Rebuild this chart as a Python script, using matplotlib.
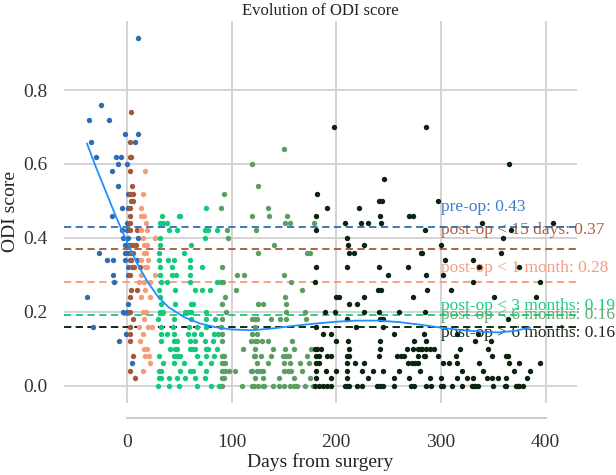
import matplotlib
matplotlib.use("Agg")
import matplotlib.pyplot as plt
from matplotlib.ticker import FormatStrFormatter

plt.rcParams['font.family'] = ['Liberation Serif', 'DejaVu Serif']

# ---------------- data ----------------
group_names = ["pre-op", "post-op < 15 days", "post-op < 1 month",
               "post-op < 3 months", "post-op < 6 months", "post-op > 6 months"]
group_means = [0.43, 0.37, 0.28, 0.19, 0.16, 0.16]

# each group: ODI level -> list of days from surgery
preop_rows = {
    0.94: [11], 0.76: [-25], 0.72: [-36, -17], 0.68: [-2, 11], 0.66: [-34, 8],
    0.62: [-29, -10, -6], 0.60: [-8, 0], 0.58: [-14], 0.54: [-8], 0.52: [1],
    0.48: [-5, 1], 0.46: [-14], 0.44: [0], 0.42: [-5, 0], 0.40: [1, 11, -4],
    0.38: [-2, 1], 0.36: [-27, -2, 1], 0.34: [-19, -13, -2, 3, 10], 0.32: [1],
    0.30: [-13, 1], 0.28: [-12], 0.24: [-38], 0.22: [1], 0.20: [-4, 0],
    0.16: [-32], 0.14: [-1], 0.12: [-7], 0.06: [5],
}
post15_rows = {
    0.74: [4], 0.66: [3], 0.62: [3, 4], 0.58: [3], 0.54: [5], 0.52: [3, 6],
    0.50: [4, 6], 0.48: [3], 0.46: [3], 0.44: [3], 0.42: [3, 10],
    0.38: [4, 6, 9], 0.36: [4, 6], 0.34: [4], 0.32: [5, 7, 13], 0.30: [3],
    0.26: [4, 10], 0.24: [3], 0.20: [3], 0.18: [6], 0.16: [3], 0.14: [3],
    0.12: [3], 0.08: [6], 0.04: [3], 0.02: [8],
}
post1m_rows = {
    0.58: [17], 0.52: [15], 0.48: [14], 0.46: [14, 16], 0.44: [18],
    0.42: [14, 19], 0.40: [15, 27], 0.38: [16, 19], 0.36: [16, 18],
    0.34: [14, 20], 0.32: [17, 19], 0.30: [14, 27], 0.28: [12, 16, 22],
    0.26: [17], 0.24: [14, 22], 0.20: [15, 18], 0.18: [16], 0.16: [12, 20, 24],
    0.14: [15], 0.12: [13], 0.10: [16, 19], 0.08: [17, 21], 0.06: [22], 0.04: [15],
}
post3m_rows = {
    0.48: [76], 0.46: [34, 50, 51], 0.44: [32, 35, 38], 0.42: [40, 48, 75, 78, 86],
    0.40: [32, 75], 0.38: [32, 61], 0.36: [31, 55], 0.34: [31, 39, 45, 60],
    0.32: [32, 43, 60, 72], 0.30: [32, 43, 47, 60], 0.28: [33, 38, 60, 86],
    0.26: [31, 46, 65, 72, 79], 0.24: [32], 0.22: [33, 46, 61, 63],
    0.20: [32, 35, 56, 58, 61, 76], 0.18: [30, 45, 61, 76, 84],
    0.16: [33, 44, 59, 67, 76], 0.14: [33, 38, 45, 58, 64, 71, 83, 87],
    0.12: [33, 45, 48, 60, 65, 75, 82], 0.10: [41, 46, 48, 60, 62, 65, 76, 78, 86],
    0.08: [31, 45, 48, 51, 67, 76, 83], 0.06: [35, 45, 55, 70, 80],
    0.04: [31, 33, 51, 60, 63, 76], 0.02: [31, 33, 40, 48, 56, 65, 75],
    0.00: [30, 40, 50, 67, 80, 88],
}
post6m_rows = {
    0.64: [150], 0.60: [120], 0.54: [125], 0.52: [93], 0.48: [90, 135],
    0.46: [120, 136, 153], 0.44: [151, 156, 179], 0.42: [96, 123], 0.40: [97],
    0.38: [141], 0.36: [125, 172, 175], 0.32: [91], 0.30: [105, 112, 150],
    0.28: [90, 92, 157], 0.26: [104, 167], 0.24: [94, 151],
    0.22: [91, 125, 130, 152], 0.20: [95, 152, 170],
    0.18: [91, 120, 122, 124, 138, 146, 152, 171], 0.16: [90, 122],
    0.14: [91, 120, 124], 0.12: [91, 119, 122, 124, 129, 135, 158],
    0.10: [111, 122, 140, 151, 160, 176],
    0.08: [91, 93, 121, 122, 128, 138, 149, 152, 155, 172],
    0.06: [91, 94, 124, 135, 150, 156, 165, 174],
    0.04: [91, 94, 98, 103, 119, 120, 124, 127, 130, 150, 154, 157, 167],
    0.02: [91, 93, 122, 130, 145, 160, 175],
    0.00: [91, 110, 120, 121, 125, 130, 131, 140, 145, 150, 156, 160, 163, 170, 178],
}
postlate_rows = {
    0.70: [198, 286], 0.60: [365], 0.56: [246], 0.52: [182], 0.50: [241, 244, 297],
    0.48: [191, 222], 0.46: [181, 242, 270, 273],
    0.44: [208, 224, 230, 243, 339, 407], 0.42: [181, 285, 367], 0.40: [210, 359],
    0.38: [211, 227, 300], 0.36: [212, 217, 281, 282, 357], 0.34: [304, 331],
    0.32: [181, 210, 241, 269, 336, 375], 0.30: [249, 286, 302],
    0.28: [180, 331, 395], 0.26: [240, 243, 287, 310],
    0.24: [200, 203, 227, 273, 351, 391], 0.22: [212, 220],
    0.20: [189, 199, 227, 241, 260, 285], 0.18: [210, 242, 245, 364],
    0.16: [181, 219, 245], 0.14: [187, 195, 255, 284, 315, 335],
    0.12: [200, 211, 242, 274, 286, 333, 348],
    0.10: [180, 182, 185, 212, 242, 268, 273, 278, 281, 282, 286, 290, 293, 318, 345],
    0.08: [181, 184, 191, 195, 210, 212, 241, 258, 262, 265, 278, 284, 285, 297,
           314, 349, 362, 364],
    0.06: [181, 184, 210, 218, 227, 269, 272, 275, 278, 302, 308, 315, 336, 365,
           375, 395],
    0.04: [181, 190, 200, 210, 225, 235, 245, 260, 280, 320, 340, 370, 385],
    0.02: [181, 195, 210, 230, 255, 270, 290, 300, 315, 325, 331, 344, 349, 355,
           362, 382],
    0.00: [180, 184, 187, 191, 195, 208, 210, 212, 220, 225, 239, 242, 245, 255,
           271, 274, 286, 291, 300, 302, 311, 320, 330, 332, 333, 335, 350, 361,
           362, 372, 374, 375, 378],
}

# smoothed trend
smooth_days = [-38, -30, -20, -10, 0, 10, 20, 30, 40, 55, 70, 85, 100, 120, 140,
               160, 180, 200, 220, 240, 260, 280, 300, 320, 340, 355, 370, 385]
smooth_odi = [0.655, 0.595, 0.525, 0.455, 0.39, 0.33, 0.28, 0.24, 0.212, 0.185,
              0.168, 0.158, 0.152, 0.150, 0.155, 0.162, 0.168, 0.173, 0.176,
              0.176, 0.172, 0.165, 0.157, 0.150, 0.146, 0.144, 0.148, 0.157]

x_ticks = [0, 100, 200, 300, 400]
y_ticks = [0.0, 0.2, 0.4, 0.6, 0.8]

# ---------------- style ----------------
group_rows = [preop_rows, post15_rows, post1m_rows, post3m_rows, post6m_rows, postlate_rows]
colors = ['#2d6db3', '#a5573a', '#f39c7a', '#12c97c', '#5c9d63', '#0a2410']
text_colors = ['#3b7fcb', '#b1603f', '#f59d7c', '#1ccc7e', '#66a86d', '#1b2a1c']
label_x = 300
label_y = [0.484, 0.420, 0.319, 0.216, 0.192, 0.143]

fig = plt.figure(figsize=(6.16, 4.75), dpi=100)
ax = fig.add_axes([0.1039, 0.1516, 0.8328, 0.8042])

for rows, c in zip(group_rows, colors):
    xs, ys = [], []
    for level, days in rows.items():
        for d in days:
            xs.append(d)
            ys.append(level)
    ax.scatter(xs, ys, s=15, color=c, linewidths=0, zorder=3)

for name, m, c, tc, ly in zip(group_names, group_means, colors, text_colors, label_y):
    ax.axhline(m, color=c, ls=(0, (4, 2.5)), lw=1.3, zorder=2)
    ax.text(label_x, ly, f"{name}: {m:.2f}", color=tc, fontsize=12.5,
            va='center', ha='left', zorder=1, clip_on=False)

ax.plot(smooth_days, smooth_odi, color='#1e8fff', lw=1.3, zorder=4)

ax.set_xlim(-60, 430)
ax.set_ylim(-0.047, 0.987)
ax.set_xticks(x_ticks)
ax.set_yticks(y_ticks)
ax.yaxis.set_major_formatter(FormatStrFormatter('%.1f'))
ax.grid(True, color='#d3d3d3', lw=1.4, zorder=0)
ax.set_axisbelow(True)
ax.tick_params(length=0, labelsize=14, colors='#333333', pad=11)
ax.tick_params(axis='y', pad=12)
for s in ['top', 'right', 'left']:
    ax.spines[s].set_visible(False)
ax.spines['bottom'].set_position(('outward', 11))
ax.spines['bottom'].set_bounds(0, 400)
ax.spines['bottom'].set_color('#cfcfcf')
ax.spines['bottom'].set_linewidth(1.5)

ax.set_xlabel("Days from surgery", fontsize=14, color='#222222', labelpad=2)
ax.set_ylabel("ODI score", fontsize=14, color='#222222')
ax.yaxis.set_label_coords(-0.088, 0.5)
ax.set_title("Evolution of ODI score", fontsize=12, color='#222222', pad=4)

fig.savefig("out.png", dpi=100)
